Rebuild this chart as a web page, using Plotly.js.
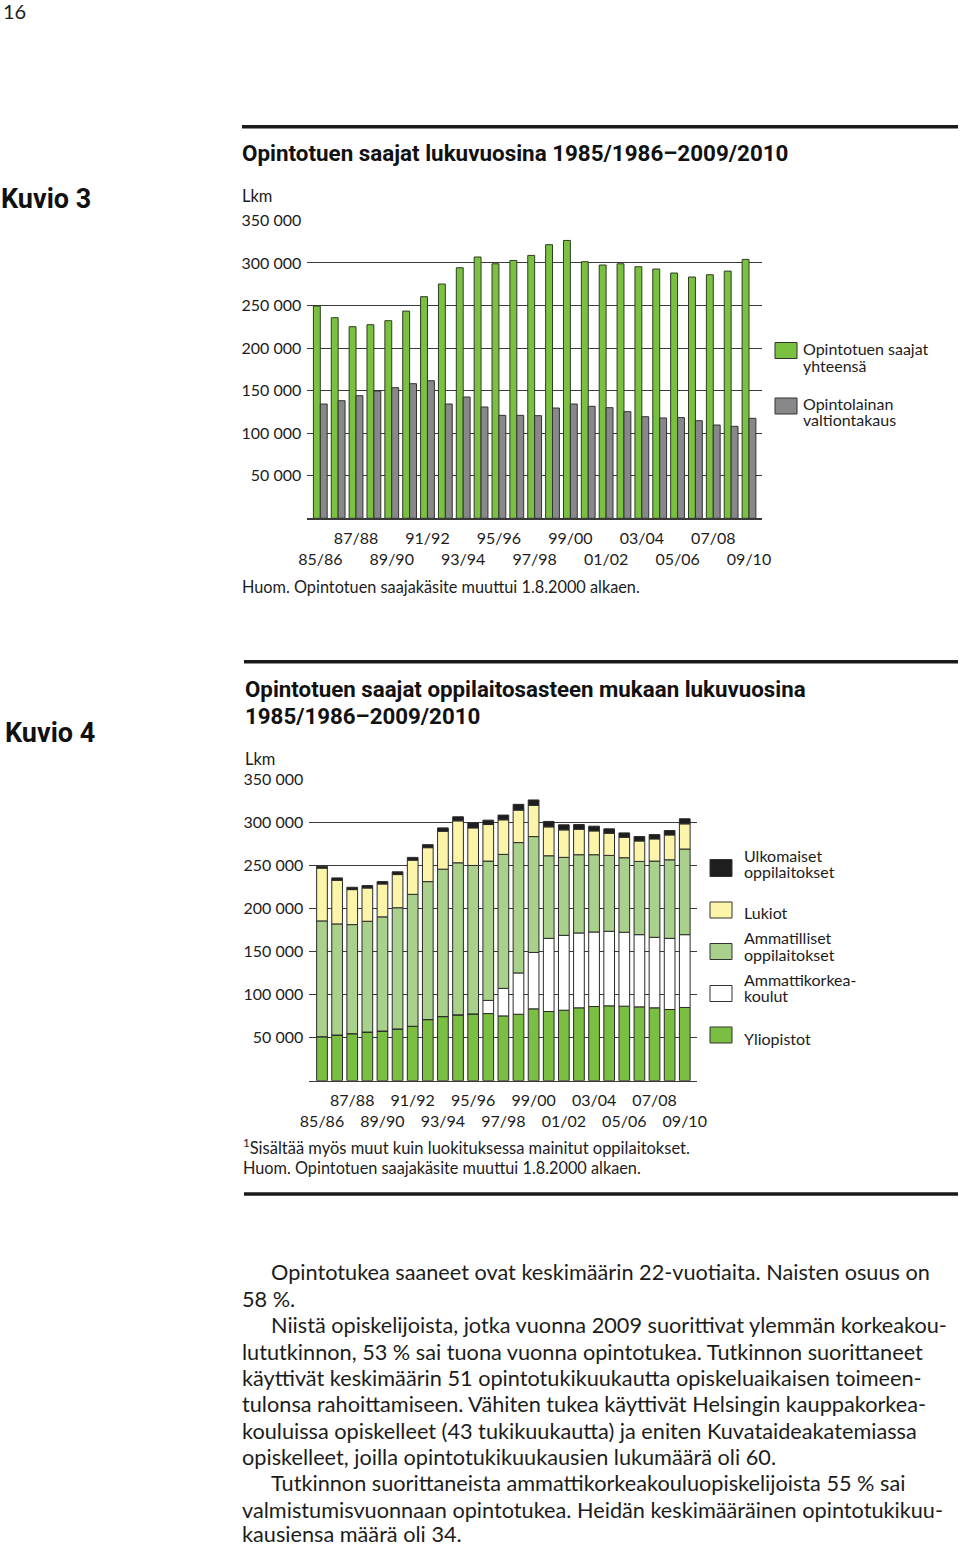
<!DOCTYPE html>
<html><head><meta charset="utf-8">
<script src="https://cdn.plot.ly/plotly-3.0.1.min.js"></script>
<style>html,body{margin:0;padding:0;background:#fff}#chart{width:960px;height:1547px}</style>
</head><body><div id="chart"></div>
<script>
// ---------- DATA ----------
const seasons = ['85/86','86/87','87/88','88/89','89/90','90/91','91/92','92/93','93/94','94/95','95/96','96/97','97/98','98/99','99/00','00/01','01/02','02/03','03/04','04/05','05/06','06/07','07/08','08/09','09/10'];
const tickRowUpper = ['87/88','91/92','95/96','99/00','03/04','07/08'];
const tickRowLower = ['85/86','89/90','93/94','97/98','01/02','05/06','09/10'];
const yTickVals = [50000,100000,150000,200000,250000,300000,350000];
const yTickText = ['50 000','100 000','150 000','200 000','250 000','300 000','350 000'];

// Kuvio 3
const totalRecipients = [249400,235700,225100,227500,232200,243500,260400,275300,294400,307000,299100,303000,308900,321500,326500,301500,297600,299100,295600,292900,288200,283500,286200,290500,304200];
const loanGuarantee   = [134300,138200,144100,149600,153500,158200,161700,134300,142500,130800,121000,121000,120600,129600,134300,131600,130000,125300,119400,117900,118300,114700,109600,108100,117500];

// Kuvio 4
const yliopistot   = [51200,53100,54700,56600,57800,60200,63300,71100,74600,76600,77700,78100,75400,77300,83600,80500,82000,84800,86300,87100,86700,85900,84800,82800,85200];
const amk          = [0,0,0,0,0,0,0,0,0,0,0,15300,32000,48100,65600,85100,87100,87100,86700,86700,86000,84000,82000,82800,84700];
const ammatilliset = [134700,129300,126900,128900,132800,141000,153500,160500,171500,176900,172700,162100,155900,151600,134800,96100,90700,91000,89900,88300,86700,85200,88700,91400,99600];
const lukiot       = [61400,50800,40700,38700,38300,38600,39800,39500,44100,48800,43700,42500,40200,37800,36300,33600,32000,29700,27700,25800,23800,23800,25800,28900,29300];
const ulkomaiset   = [2300,2700,2700,2800,2700,3200,3200,3500,3900,4700,5900,5100,5500,6700,6300,6300,5900,5400,5500,5100,5100,5100,5000,5100,5900];

const bodyLines = [
  'Opintotukea saaneet ovat keskimäärin 22-vuotiaita. Naisten osuus on',
  '58 %.',
  'Niistä opiskelijoista, jotka vuonna 2009 suorittivat ylemmän korkeakou-',
  'lututkinnon, 53 % sai tuona vuonna opintotukea. Tutkinnon suorittaneet',
  'käyttivät keskimäärin 51 opintotukikuukautta opiskeluaikaisen toimeen-',
  'tulonsa rahoittamiseen. Vähiten tukea käyttivät Helsingin kauppakorkea-',
  'kouluissa opiskelleet (43 tukikuukautta) ja eniten Kuvataideakatemiassa',
  'opiskelleet, joilla opintotukikuukausien lukumäärä oli 60.',
  'Tutkinnon suorittaneista ammattikorkeakouluopiskelijoista 55 % sai',
  'valmistumisvuonnaan opintotukea. Heidän keskimääräinen opintotukikuu-',
  'kausiensa määrä oli 34.'
];
const bodyIndent = [true,false,true,false,false,false,false,false,true,false,false];

// ---------- HELPERS ----------
const W = 960, H = 1547;
const px = x => x / W;
const py = y => 1 - y / H;
const FONT = 'Lato, "Open Sans", sans-serif';
const CFONT = 'Roboto, "Liberation Sans", sans-serif';
const ink = '#1c1c1c';
const gridC = '#3a3a3a';

const tickText = seasons.map(s => tickRowUpper.includes(s) ? s + '<br>\u00a0' : (tickRowLower.includes(s) ? '\u00a0<br>' + s : ''));

function cum(arrs) {
  const out = []; let acc = seasons.map(() => 0);
  arrs.forEach(a => { out.push(acc.slice()); acc = acc.map((v, i) => v + a[i]); });
  return out;
}
const bases = cum([yliopistot, amk, ammatilliset, lukiot, ulkomaiset]);

const outline = {color: '#2b2b2b', width: 1};
const traces = [
  {type:'bar', x:seasons, y:totalRecipients, xaxis:'x', yaxis:'y', width:0.386, offset:-0.386,
   marker:{color:'#7ac142', line:{color:'#2f3d22', width:1}}, hoverinfo:'y'},
  {type:'bar', x:seasons, y:loanGuarantee, xaxis:'x', yaxis:'y', width:0.386, offset:0,
   marker:{color:'#88888a', line:{color:'#333', width:1}}, hoverinfo:'y'}
];
const stackSeries = [
  [yliopistot, '#7abf42'], [amk, '#ffffff'], [ammatilliset, '#a9d18c'], [lukiot, '#fcf4a8'], [ulkomaiset, '#1e1e1e']
];
stackSeries.forEach(([arr, col], k) => {
  traces.push({type:'bar', x:seasons, y:arr, base:bases[k], xaxis:'x2', yaxis:'y2', width:0.708,
    marker:{color:col, line:outline}, hoverinfo:'y'});
});

const xCommon = {type:'category', tickvals:seasons, ticktext:tickText, ticks:'outside', ticklen:5, tickcolor:'rgba(0,0,0,0)',
  tickangle:0, showgrid:false, zeroline:false,
  showline:true, linecolor:gridC, linewidth:1.3, tickfont:{family:FONT, size:16, color:ink}, fixedrange:true};
const yCommon = {range:[0,350400], tickvals:yTickVals, ticktext:yTickText, ticks:'', showgrid:true, gridcolor:gridC,
  gridwidth:1, zeroline:false, showline:false, tickfont:{family:FONT, size:16, color:ink}, ticklabelstandoff:5, fixedrange:true};

const annotations = [];
function txt(x, y, text, size, o = {}) {
  annotations.push(Object.assign({xref:'paper', yref:'paper', x:px(x), y:py(y), text:text, showarrow:false, borderpad:0,
    xanchor:'left', yanchor:'middle', align:'left', font:{family:FONT, size:size, color:ink}}, o));
}
function ctxt(x, y, text, size) {
  txt(x, y, '<b>' + text + '</b>', size, {font:{family:CFONT, size:size, color:'#111'}});
}

txt(2, 11, '16', 20);
ctxt(0, 199, 'Kuvio 3', 27);
ctxt(241, 153, 'Opintotuen saajat lukuvuosina 1985/1986–2009/2010', 22.4);
txt(241, 196, 'Lkm', 16.5);
txt(802, 349, 'Opintotuen saajat', 16);
txt(802, 365, 'yhteensä', 16);
txt(802, 404, 'Opintolainan', 16);
txt(802, 420, 'valtiontakaus', 16);
txt(241, 586, 'Huom. Opintotuen saajakäsite muuttui 1.8.2000 alkaen.', 16.3);

ctxt(4, 733, 'Kuvio 4', 27);
ctxt(244, 689, 'Opintotuen saajat oppilaitosasteen mukaan lukuvuosina', 22.3);
ctxt(244, 716, '1985/1986–2009/2010', 22.3);
txt(244, 759, 'Lkm', 16.5);
txt(743, 855, 'Ulkomaiset', 16);
txt(743, 871.5, 'oppilaitokset', 16);
txt(743, 912.5, 'Lukiot', 16);
txt(743, 938, 'Ammatilliset', 16);
txt(743, 954, 'oppilaitokset', 16);
txt(743, 979.5, 'Ammattikorkea-', 16);
txt(743, 995.5, 'koulut', 16);
txt(743, 1038, 'Yliopistot', 16);
txt(242, 1147, '<sup>1</sup>Sisältää myös muut kuin luokituksessa mainitut oppilaitokset.', 16.5);
txt(242, 1167, 'Huom. Opintotuen saajakäsite muuttui 1.8.2000 alkaen.', 16.3);

const lineY = [1272, 1299, 1325, 1352, 1378, 1404, 1431, 1457, 1483, 1510, 1534];
bodyLines.forEach((l, i) => txt(bodyIndent[i] ? 270 : 241, lineY[i], l, 21.7));

const shapes = [];
function rule(y, x0) {
  shapes.push({type:'line', xref:'paper', yref:'paper', x0:px(x0), x1:px(958), y0:py(y), y1:py(y), line:{color:'#1a1a1a', width:3.6}});
}
rule(126.7, 242); rule(661.7, 244); rule(1194, 244);
function swatch(x0, y0, x1, y1, col) {
  shapes.push({type:'rect', xref:'paper', yref:'paper', x0:px(x0), x1:px(x1), y0:py(y0), y1:py(y1), fillcolor:col, line:{color:'#333', width:1}});
}
swatch(775, 342.5, 797, 358.5, '#7ac142');
swatch(775, 398, 797, 414, '#88888a');
swatch(710, 859.5, 732, 876.5, '#1e1e1e');
swatch(710, 902, 732, 918, '#fcf4a8');
swatch(710, 943.5, 732, 959.5, '#a9d18c');
swatch(710, 985.5, 732, 1001.5, '#ffffff');
swatch(710, 1027, 732, 1043, '#7abf42');

const layout = {
  width:W, height:H, margin:{l:0, r:0, t:0, b:0}, paper_bgcolor:'#fff', plot_bgcolor:'rgba(0,0,0,0)',
  showlegend:false, barmode:'overlay',
  xaxis: Object.assign({}, xCommon, {domain:[px(307.3), px(761.7)], range:[-0.728, 24.711], anchor:'y'}),
  yaxis: Object.assign({}, yCommon, {domain:[py(518.3), py(220.1)], anchor:'x'}),
  xaxis2: Object.assign({}, xCommon, {domain:[px(309.3), px(697.3)], range:[-0.84, 24.83], anchor:'y2'}),
  yaxis2: Object.assign({}, yCommon, {domain:[py(1080.7), py(779.5)], anchor:'x2'}),
  annotations: annotations, shapes: shapes
};
Plotly.newPlot('chart', traces, layout, {displayModeBar:false, staticPlot:true});
</script></body></html>
